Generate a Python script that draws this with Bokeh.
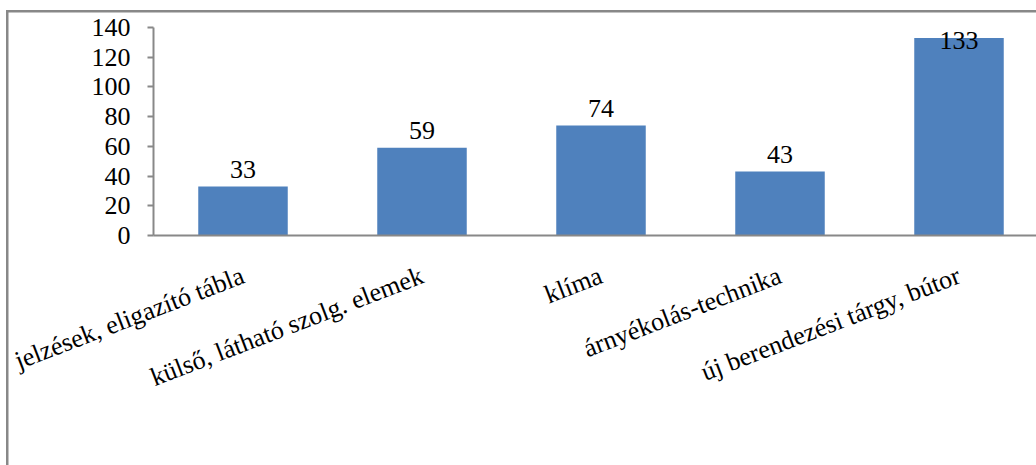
import math

from bokeh.core.properties import value
from bokeh.embed import file_html
from bokeh.models import ColumnDataSource, FixedTicker, Range1d
from bokeh.plotting import figure
from bokeh.resources import INLINE

# Data
categories = [
    "jelzések, eligazító tábla",
    "külső, látható szolg. elemek",
    "klíma",
    "árnyékolás-technika",
    "új berendezési tárgy, bútor",
]
counts = [33, 59, 74, 43, 133]
y_ticks = [0, 20, 40, 60, 80, 100, 120, 140]

# Layout (pixels)
W, H = 1036, 465
FRAME_LEFT, FRAME_TOP, FRAME_BOTTOM = 153, 10, 230
CAT_W_PX = 179
TOP_PAD_PX = 17
LABEL_GAP_PX = 17
DIGIT_H_PX = 18
LABEL_TOP_MIN_PX = 12

FONT = "'Liberation Serif', 'Times New Roman', serif"
AXIS_GREY = "#888888"
BAR_BLUE = "#4F81BD"

frame_w = W - FRAME_LEFT
frame_h = H - FRAME_TOP - FRAME_BOTTOM
y_max = y_ticks[-1]
ppu = (frame_h - TOP_PAD_PX) / y_max
y_end = y_max + TOP_PAD_PX / ppu
x_end = frame_w / CAT_W_PX

xs = [i + 0.5 for i in range(len(categories))]

# value labels sit above each bar, pushed down when they would leave the frame
label_y = []
for v in counts:
    bar_top = (y_end - v) * ppu
    base = bar_top - LABEL_GAP_PX
    if base - DIGIT_H_PX < LABEL_TOP_MIN_PX:
        base = LABEL_TOP_MIN_PX + DIGIT_H_PX
    label_y.append(y_end - base / ppu)

source = ColumnDataSource(dict(
    x=xs,
    count=counts,
    label=[str(v) for v in counts],
    label_y=label_y,
))

# chart border (left and top edges) drawn as the page element's background
border_css = (
    f"linear-gradient({AXIS_GREY}, {AXIS_GREY}) 6px 10px / 2.5px 100% no-repeat, "
    f"linear-gradient({AXIS_GREY}, {AXIS_GREY}) 6px 10px / 100% 2.5px no-repeat, "
    "white"
)

p = figure(
    width=W, height=H,
    x_range=Range1d(0, x_end), y_range=Range1d(0, y_end),
    output_backend="svg", toolbar_location=None,
    min_border_left=FRAME_LEFT, min_border_right=0,
    min_border_top=FRAME_TOP, min_border_bottom=FRAME_BOTTOM,
    background_fill_alpha=0, border_fill_alpha=0,
    styles={"background": border_css},
)
p.outline_line_color = None
p.grid.visible = False

p.vbar(x="x", top="count", width=0.5, bottom=0, source=source,
       fill_color=BAR_BLUE, line_color=None)

p.text(x="x", y="label_y", text="label", source=source,
       text_font=value(FONT), text_font_size="26px", text_color="black",
       text_align="center", text_baseline="alphabetic")

# y axis
ya = p.yaxis[0]
ya.ticker = FixedTicker(ticks=y_ticks)
ya.bounds = (0, y_max)
ya.axis_line_color = AXIS_GREY
ya.axis_line_width = 2
ya.major_tick_line_color = AXIS_GREY
ya.major_tick_line_width = 2
ya.major_tick_out = 6
ya.major_tick_in = 0
ya.minor_tick_line_color = None
ya.major_label_text_font = FONT
ya.major_label_text_font_size = "26px"
ya.major_label_text_color = "black"
ya.major_label_standoff = 17

# x axis with rotated category names
xa = p.xaxis[0]
xa.ticker = FixedTicker(ticks=xs)
xa.major_label_overrides = {x: c for x, c in zip(xs, categories)}
xa.axis_line_color = AXIS_GREY
xa.axis_line_width = 2
xa.major_tick_line_color = None
xa.minor_tick_line_color = None
xa.major_label_orientation = math.radians(21)
xa.major_label_text_font = FONT
xa.major_label_text_font_size = "26px"
xa.major_label_text_color = "black"
xa.major_label_standoff = 33

open("out.html", "w").write(file_html(p, INLINE))
